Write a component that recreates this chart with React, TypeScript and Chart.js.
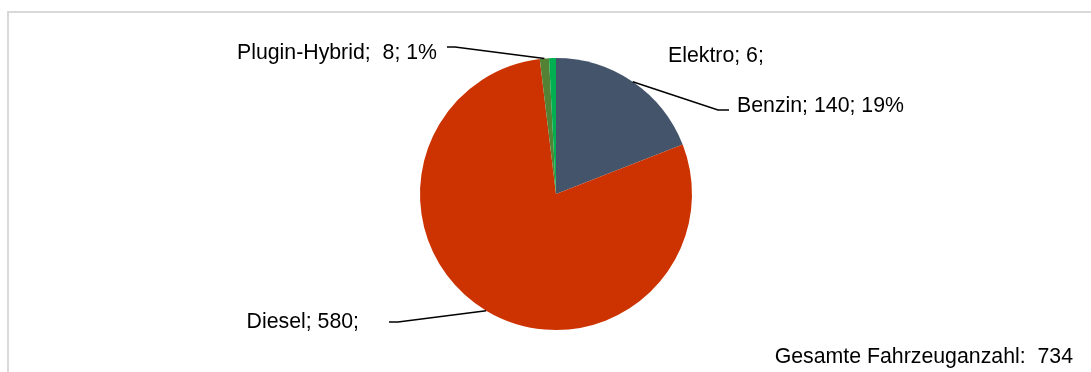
import React, { useEffect, useRef } from "react";
import { Chart, registerables } from "chart.js";

Chart.register(...registerables);

const categories = ["Benzin", "Diesel", "Plugin-Hybrid", "Elektro"];
const values = [140, 580, 8, 6];
const sliceColors = ["#44546A", "#CC3300", "#548235", "#00B050"];
const sliceLabels = ["Benzin; 140; 19%", "Diesel; 580;", "Plugin-Hybrid;  8; 1%", "Elektro; 6;"];
const totalCaption = "Gesamte Fahrzeuganzahl:  ";

// label placement relative to pie centre (layout only)
const labelLayout = [
  { dx: 181, dy: -88, align: "left", line: [[162, -84], [173, -84]] },
  { dx: -197, dy: 128, align: "right", line: [[-158, 128], [-167, 128]] },
  { dx: -119, dy: -141, align: "right", line: [[-101, -147], [-109, -147]] },
  { dx: 112, dy: -138, align: "left", line: [] as number[][] },
];

const FONT = "21.3px 'Liberation Sans', Arial, sans-serif";

const labelPlugin = {
  id: "pieLabels",
  afterDraw(chart: any) {
    const ctx = chart.ctx;
    const meta = chart.getDatasetMeta(0);
    ctx.save();
    ctx.font = FONT;
    ctx.fillStyle = "#000";
    ctx.strokeStyle = "#000";
    ctx.lineWidth = 1.5;
    ctx.textBaseline = "middle";
    meta.data.forEach((arc: any, i: number) => {
      const cx = arc.x;
      const cy = arc.y;
      const mid = (arc.startAngle + arc.endAngle) / 2;
      const ax = cx + arc.outerRadius * Math.cos(mid);
      const ay = cy + arc.outerRadius * Math.sin(mid);
      const lay = labelLayout[i];
      if (lay.line.length) {
        ctx.beginPath();
        ctx.moveTo(ax, ay);
        lay.line.forEach((p) => ctx.lineTo(cx + p[0], cy + p[1]));
        ctx.stroke();
      }
      ctx.textAlign = lay.align;
      ctx.fillText(sliceLabels[i], cx + lay.dx, cy + lay.dy);
    });
    const total = values.reduce((a, b) => a + b, 0);
    ctx.textAlign = "right";
    ctx.fillText(totalCaption + total, chart.width - 18, chart.height - 15);
    ctx.restore();
  },
};

export default function App() {
  const ref = useRef<HTMLCanvasElement>(null);
  useEffect(() => {
    if (!ref.current) return;
    const chart = new Chart(ref.current, {
      type: "pie",
      data: {
        labels: categories,
        datasets: [
          {
            data: values,
            backgroundColor: sliceColors,
            borderWidth: 0,
          },
        ],
      },
      options: {
        animation: false,
        responsive: false,
        layout: { padding: { top: 58, bottom: 42, left: 21, right: 0 } },
        plugins: {
          legend: { display: false },
          tooltip: { enabled: false },
        },
      },
      plugins: [labelPlugin],
    });
    return () => chart.destroy();
  }, []);

  return (
    <div
      style={{
        position: "fixed",
        left: 0,
        top: 0,
        width: 1091,
        height: 372,
        overflow: "hidden",
        background: "#fff",
      }}
    >
      <div
        style={{
          position: "absolute",
          left: 7,
          top: 11,
          width: 1200,
          height: 500,
          borderTop: "2px solid #d9d9d9",
          borderLeft: "2px solid #d9d9d9",
        }}
      />
      <canvas
        ref={ref}
        width={1091}
        height={372}
        style={{ position: "absolute", left: 0, top: 0 }}
      />
    </div>
  );
}
